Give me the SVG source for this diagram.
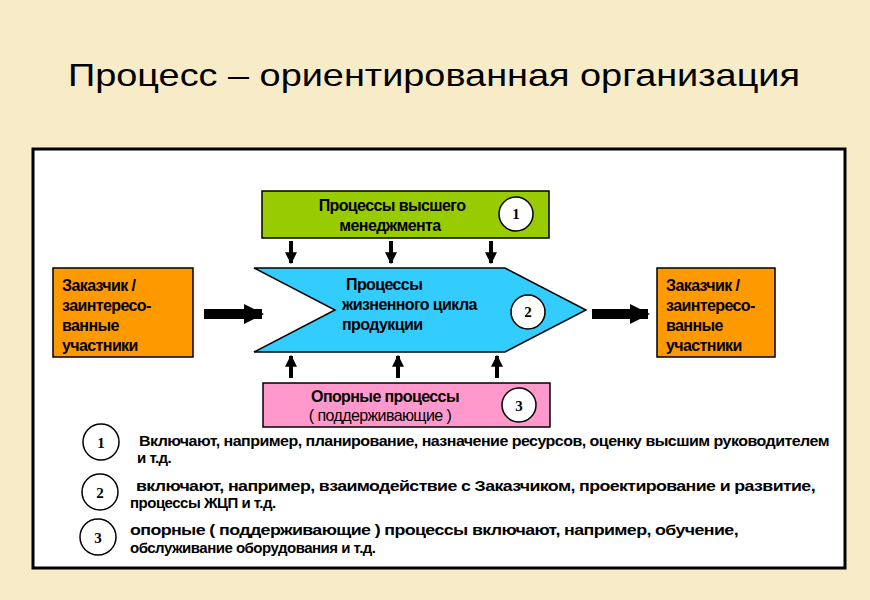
<svg xmlns="http://www.w3.org/2000/svg" width="870" height="600" viewBox="0 0 870 600">
<style>
.t{font-family:"Liberation Sans",Arial,sans-serif;font-weight:bold;font-size:16px;fill:#000;letter-spacing:-0.6px}
.l{font-family:"Liberation Sans",Arial,sans-serif;font-size:15px;fill:#000;font-weight:bold;letter-spacing:-0.5px}
.n{font-family:"Liberation Serif",serif;font-weight:bold;font-size:15px;text-anchor:middle}
.c{fill:#fff;stroke:#000;stroke-width:1.5}
.b{stroke:#000;stroke-width:1.5}
</style>
<defs>
<marker id="a" viewBox="0 0 10 10" refX="9" refY="5" markerWidth="3" markerHeight="3" orient="auto"><path d="M0,0L10,5L0,10z"/></marker>
<marker id="A" viewBox="0 0 10 10" refX="9" refY="5" markerWidth="2" markerHeight="2.6" orient="auto"><path d="M0,0L10,5L0,10z"/></marker>
</defs>
<rect width="870" height="600" fill="#f8ecc8"/>
<text x="68" y="86" textLength="732" lengthAdjust="spacingAndGlyphs" font-family="Liberation Sans,Arial,sans-serif" font-size="32">Процесс – ориентированная организация</text>
<rect x="33" y="149" width="812" height="419" fill="#fff" stroke="#000" stroke-width="3"/>
<g id="top"><rect x="262" y="191" width="287" height="47" fill="#99cc00" class="b"/>
<text class="t" x="392" y="211" text-anchor="middle">Процессы высшего</text><text class="t" x="390" y="231" text-anchor="middle">менеджмента</text>
<circle class="c" cx="516" cy="214" r="17"/><text class="n" x="516" y="219">1</text></g>
<g id="core"><path d="M254,268H505L586,310L505,352H254L335,310Z" fill="#33ccff" class="b"/>
<text class="t" x="346" y="290">Процессы</text><text class="t" x="342" y="310">жизненного цикла</text><text class="t" x="342" y="330">продукции</text>
<circle class="c" cx="528" cy="312" r="17"/><text class="n" x="528" y="317">2</text></g>
<g id="sup"><rect x="263" y="383" width="287" height="44" fill="#ff99cc" class="b"/>
<text class="t" x="385" y="402" text-anchor="middle">Опорные процессы</text><text class="t" x="380" y="421" text-anchor="middle" style="font-weight:normal">( поддерживающие )</text>
<circle class="c" cx="519" cy="405" r="17"/><text class="n" x="519" y="411">3</text></g>
<g id="cl"><rect x="53" y="268" width="140" height="89" fill="#ff9900" class="b"/>
<text class="t" x="62" y="291">Заказчик /</text><text class="t" x="62" y="311">заинтересо-</text><text class="t" x="62" y="331">ванные</text><text class="t" x="62" y="351">участники</text></g>
<g id="cr"><rect x="657" y="268" width="118" height="89" fill="#ff9900" class="b"/>
<text class="t" x="666" y="291">Заказчик /</text><text class="t" x="666" y="311">заинтересо-</text><text class="t" x="666" y="331">ванные</text><text class="t" x="666" y="351">участники</text></g>
<g id="conn" stroke="#000" fill="none">
<g stroke-width="4" marker-end="url(#a)"><path d="M291,241V263"/><path d="M391,241V263"/><path d="M491,241V263"/>
<path d="M291,378V356"/><path d="M398,378V356"/><path d="M497,378V356"/></g>
<g stroke-width="10" marker-end="url(#A)"><path d="M204,314H262"/><path d="M592,314H648"/></g>
</g>
<g id="legend">
<circle class="c" cx="101" cy="442" r="18"/><text class="n" x="101" y="448">1</text>
<text class="l" x="139" y="446" textLength="690" lengthAdjust="spacingAndGlyphs">Включают, например, планирование, назначение ресурсов, оценку высшим руководителем</text><text class="l" x="137" y="463">и т.д.</text>
<circle class="c" cx="100" cy="492" r="18"/><text class="n" x="100" y="498">2</text>
<text class="l" x="136" y="491" textLength="679" lengthAdjust="spacingAndGlyphs">включают, например, взаимодействие с Заказчиком, проектирование и развитие,</text><text class="l" x="130" y="508">процессы ЖЦП и т.д.</text>
<circle class="c" cx="98" cy="537" r="18"/><text class="n" x="98" y="543">3</text>
<text class="l" x="130" y="535" textLength="608" lengthAdjust="spacingAndGlyphs">опорные ( поддерживающие ) процессы включают, например, обучение,</text><text class="l" x="130" y="553">обслуживание оборудования и т.д.</text>
</g>
</svg>
